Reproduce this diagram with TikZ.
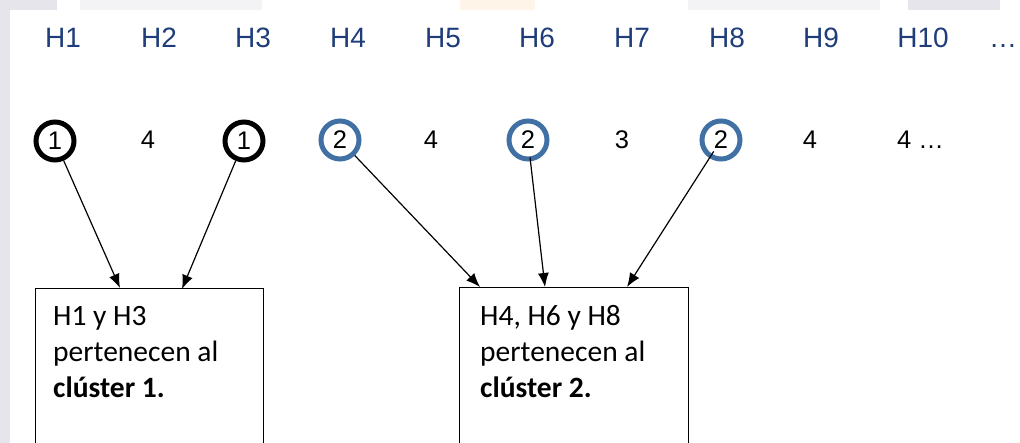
\documentclass[tikz,border=0pt]{standalone}
\usepackage{fontspec}
\setmainfont{Carlito}
\newfontfamily\arialfont{Liberation Sans}
\usetikzlibrary{arrows.meta}
\definecolor{headblue}{RGB}{31,61,122}
\definecolor{ringblue}{RGB}{65,113,164}
\definecolor{edgegray}{RGB}{229,229,235}
\definecolor{palegray}{RGB}{243,243,246}
\definecolor{palepeach}{RGB}{255,244,232}
\begin{document}
\begin{tikzpicture}[x=1pt,y=-1pt,
  head/.style={font=\arialfont\fontsize{28}{28}\selectfont, text=headblue, inner sep=0pt, anchor=base},
  val/.style={font=\arialfont\fontsize{25.5}{25.5}\selectfont, inner sep=0pt},
  num/.style={val, anchor=base},
  ring/.style={val, circle, draw, line width=5pt, minimum size=38pt},
  ring1/.style={ring, draw=black},
  ring2/.style={ring, draw=ringblue},
  clusterbox/.style={draw, line width=1.3pt, minimum width=228pt, minimum height=220pt, anchor=north west, inner sep=0pt},
  note/.style={font=\fontsize{29.5}{36}\selectfont, align=left, anchor=base west, inner sep=0pt},
  arr/.style={line width=1.2pt, -{Latex[length=14pt,width=11pt]}}
]
\useasboundingbox (0,0) rectangle (1020,443);
\clip (0,0) rectangle (1020,443);

% page background with its faint edge bands
\fill[white] (0,0) rectangle (1020,443);
\fill[edgegray] (0,0) rectangle (10,443);
\fill[edgegray] (0,0) rectangle (57,10);
\fill[palegray] (80,0) rectangle (262,10);
\fill[palepeach] (460,0) rectangle (535,10);
\fill[palegray] (688,0) rectangle (880,10);
\fill[edgegray] (908,0) rectangle (1000,10);

% header row
\node[head] (h1) at (63,47.5) {H1};
\node[head] (h2) at (159,47.5) {H2};
\node[head] (h3) at (253,47.5) {H3};
\node[head] (h4) at (348,47.5) {H4};
\node[head] (h5) at (443,47.5) {H5};
\node[head] (h6) at (537,47.5) {H6};
\node[head] (h7) at (632,47.5) {H7};
\node[head] (h8) at (727,47.5) {H8};
\node[head] (h9) at (821,47.5) {H9};
\node[head] (h10) at (923,47.5) {H10};
\node[head, anchor=base west] (hdots) at (989,48) {…};

% cluster assignments
\node[ring1] (c1) at (55,141) {1};
\node[num] (c2) at (148,148.5) {4};
\node[ring1] (c3) at (244,141) {1};
\node[ring2] (c4) at (340,140) {2};
\node[num] (c5) at (431,148.5) {4};
\node[ring2] (c6) at (528,140) {2};
\node[num] (c7) at (622,148.5) {3};
\node[ring2] (c8) at (721,140) {2};
\node[num] (c9) at (810,148.5) {4};
\node[val, anchor=base west] (c10) at (897,148.5) {4 …};

% cluster boxes
\node[clusterbox] (box1) at (35,288) {};
\node[clusterbox, minimum width=229pt] (box2) at (459,287) {};
\node[note] (note1) at (53,398) {H1 y H3\\pertenecen al\\\textbf{clúster 1.}};
\node[note] (note2) at (480,398) {H4,\ H6 y H8\\pertenecen al\\\textbf{clúster 2.}};

% arrow targets on the box tops
\coordinate (t1) at (120,288);
\coordinate (t3) at (182,289);
\coordinate (t4) at (480,287);
\coordinate (t6) at (545,287);
\coordinate (t8) at (627,287);

\draw[arr] (c1) -- (t1);
\draw[arr] (c3) -- (t3);
\draw[arr] (c4) -- (t4);
\draw[arr, shorten <=-4pt] (c6) -- (t6);
\draw[arr, shorten <=-8pt] (c8) -- (t8);
\end{tikzpicture}
\end{document}
